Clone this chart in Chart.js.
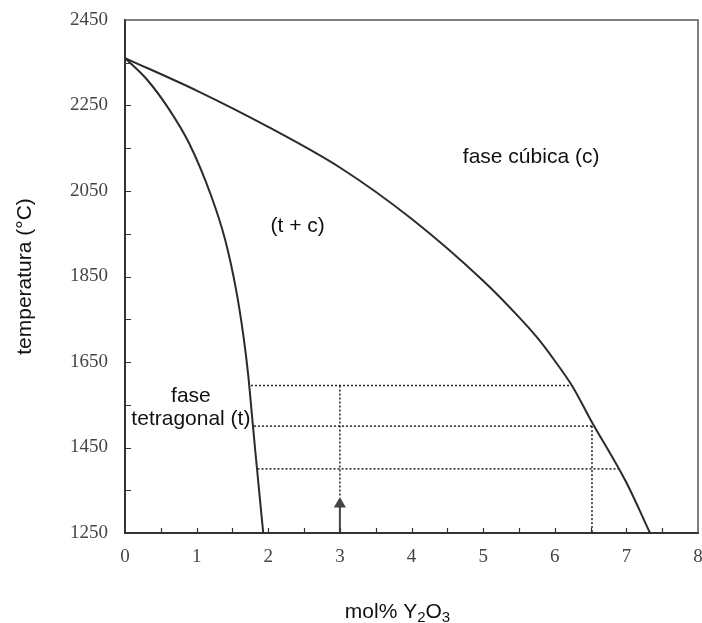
<!DOCTYPE html>
<html>
<head>
<meta charset="utf-8">
<script src="https://cdn.jsdelivr.net/npm/chart.js@4/dist/chart.umd.min.js"></script>
<style>
  html, body { margin: 0; padding: 0; background: #fff; }
</style>
</head>
<body>
<canvas id="diagram" width="702" height="623"></canvas>
<script>
// ── phase boundaries (mol% Y2O3, °C) ──
const tetraX = [0, 0.3, 0.6, 0.9, 1.2, 1.4, 1.55, 1.65, 1.72, 1.77, 1.82, 1.93];
const tetraT = [2361, 2312, 2245, 2160, 2040, 1935, 1820, 1715, 1620, 1530, 1440, 1250];
const cubicX = [0, 1, 2, 3, 4, 5, 5.5, 5.75, 6, 6.25, 6.5, 7, 7.33];
const cubicT = [2361, 2285, 2200, 2105, 1985, 1840, 1755, 1708, 1653, 1592, 1515, 1368, 1250];

// tie lines (dotted)
const tieT = [1595, 1500, 1400];
const tieLeftX = [1.76, 1.80, 1.85];
const tieRightX = [6.24, 6.54, 6.89];

// dotted drop lines at fixed compositions
const dropX = [3, 6.52];
const dropTop = [1595, 1500];
const dropBottom = [1334, 1250];

// arrow at 3 mol%
const arrowX = 3;
const arrowFrom = 1250;
const arrowHead = 1318;

// axis ranges / ticks
const xMin = 0, xMax = 8, xStep = 0.5;
const yMin = 1250, yMax = 2450, yStep = 100, yLabelStep = 200;

// region labels
const regionLabels = [
  { text: 'fase cúbica (c)', x: 5.67, y: 2115 },
  { text: '(t + c)', x: 2.41, y: 1954 },
  { text: 'fase', x: 0.92, y: 1556 },
  { text: 'tetragonal (t)', x: 0.92, y: 1503 }
];

const INK = '#2b2b2b';

function pts(xs, ys) {
  return xs.map((x, i) => ({ x: x, y: ys[i] }));
}

const datasets = [];

datasets.push({
  data: pts(tetraX, tetraT),
  showLine: true, borderColor: INK, borderWidth: 2,
  pointRadius: 0, cubicInterpolationMode: 'monotone'
});
datasets.push({
  data: pts(cubicX, cubicT),
  showLine: true, borderColor: INK, borderWidth: 2,
  pointRadius: 0, cubicInterpolationMode: 'monotone'
});

tieT.forEach((t, i) => {
  datasets.push({
    data: [{ x: tieLeftX[i], y: t }, { x: tieRightX[i], y: t }],
    showLine: true, borderColor: '#222', borderWidth: 1.5, borderDash: [2, 2],
    pointRadius: 0
  });
});

dropX.forEach((x, i) => {
  datasets.push({
    data: [{ x: x, y: dropTop[i] }, { x: x, y: dropBottom[i] }],
    showLine: true, borderColor: '#222', borderWidth: 1.5, borderDash: [2, 2],
    pointRadius: 0
  });
});

// arrow shaft + head
datasets.push({
  data: [{ x: arrowX, y: arrowFrom }, { x: arrowX, y: arrowHead }],
  showLine: true, borderColor: '#444', borderWidth: 2, pointRadius: 0
});
datasets.push({
  data: [{ x: arrowX, y: arrowHead }],
  pointStyle: 'triangle', pointRadius: 7,
  backgroundColor: '#444', borderColor: '#444', borderWidth: 0
});

// frame, inward tick marks, region labels and x title
const decorations = {
  id: 'decorations',
  afterDraw(chart) {
    const ctx = chart.ctx;
    const a = chart.chartArea;
    const xs = chart.scales.x, ys = chart.scales.y;
    ctx.save();

    // top / right frame
    ctx.strokeStyle = '#555';
    ctx.lineWidth = 1.5;
    ctx.beginPath();
    ctx.moveTo(a.left, a.top);
    ctx.lineTo(a.right, a.top);
    ctx.lineTo(a.right, a.bottom);
    ctx.stroke();

    // inward ticks
    ctx.strokeStyle = '#333';
    ctx.lineWidth = 1.2;
    ctx.beginPath();
    xs.ticks.forEach(t => {
      if (t.value <= xMin || t.value >= xMax) return;
      const px = Math.round(xs.getPixelForValue(t.value)) + 0.5;
      ctx.moveTo(px, a.bottom);
      ctx.lineTo(px, a.bottom - 5);
    });
    ys.ticks.forEach(t => {
      if (t.value <= yMin || t.value >= yMax) return;
      const py = Math.round(ys.getPixelForValue(t.value)) + 0.5;
      ctx.moveTo(a.left, py);
      ctx.lineTo(a.left + 6, py);
    });
    ctx.stroke();

    // region labels
    ctx.fillStyle = '#111';
    ctx.font = '21px "Liberation Sans", Arial, sans-serif';
    ctx.textAlign = 'center';
    ctx.textBaseline = 'alphabetic';
    regionLabels.forEach(l => {
      ctx.fillText(l.text, xs.getPixelForValue(l.x), ys.getPixelForValue(l.y));
    });

    // x title with subscripts: mol% Y2O3
    const parts = [
      { t: 'mol% Y', sub: false }, { t: '2', sub: true },
      { t: 'O', sub: false }, { t: '3', sub: true }
    ];
    const big = '21px "Liberation Sans", Arial, sans-serif';
    const small = '15px "Liberation Sans", Arial, sans-serif';
    let total = 0;
    parts.forEach(p => {
      ctx.font = p.sub ? small : big;
      p.w = ctx.measureText(p.t).width;
      total += p.w;
    });
    let cx = (a.left + a.right) / 2 - 14 - total / 2;
    const base = chart.height - 5;
    ctx.textAlign = 'left';
    parts.forEach(p => {
      ctx.font = p.sub ? small : big;
      ctx.fillText(p.t, cx, p.sub ? base + 4 : base);
      cx += p.w;
    });

    ctx.restore();
  }
};

new Chart(document.getElementById('diagram'), {
  type: 'scatter',
  data: { datasets: datasets },
  options: {
    responsive: false,
    animation: false,
    layout: { autoPadding: false, padding: { top: 20, right: 4, left: 0, bottom: 0 } },
    plugins: { legend: { display: false }, tooltip: { enabled: false } },
    scales: {
      x: {
        type: 'linear', min: xMin, max: xMax,
        afterFit: s => { s.height = 90; s.paddingLeft = 0; s.paddingRight = 0; },
        grid: { display: false, drawTicks: false },
        border: { display: true, color: '#333', width: 2 },
        ticks: {
          stepSize: xStep, autoSkip: false, maxRotation: 0, padding: 13,
          color: '#444',
          font: { family: '"Liberation Serif", "Times New Roman", serif', size: 19 },
          callback: v => Number.isInteger(v) ? String(v) : ''
        }
      },
      y: {
        type: 'linear', min: yMin, max: yMax,
        afterFit: s => { s.width = 125; s.paddingTop = 0; s.paddingBottom = 0; },
        grid: { display: false, drawTicks: false },
        border: { display: true, color: '#333', width: 2 },
        ticks: {
          stepSize: yStep, autoSkip: false, padding: 17,
          color: '#444',
          font: { family: '"Liberation Serif", "Times New Roman", serif', size: 19 },
          callback: v => ((v - yMin) % yLabelStep === 0) ? String(v) : ''
        },
        title: {
          display: true, text: 'temperatura (°C)', color: '#111',
          font: { family: '"Liberation Sans", Arial, sans-serif', size: 21 },
          padding: { top: 13, bottom: 0 }
        }
      }
    }
  },
  plugins: [decorations]
});
</script>
</body>
</html>
